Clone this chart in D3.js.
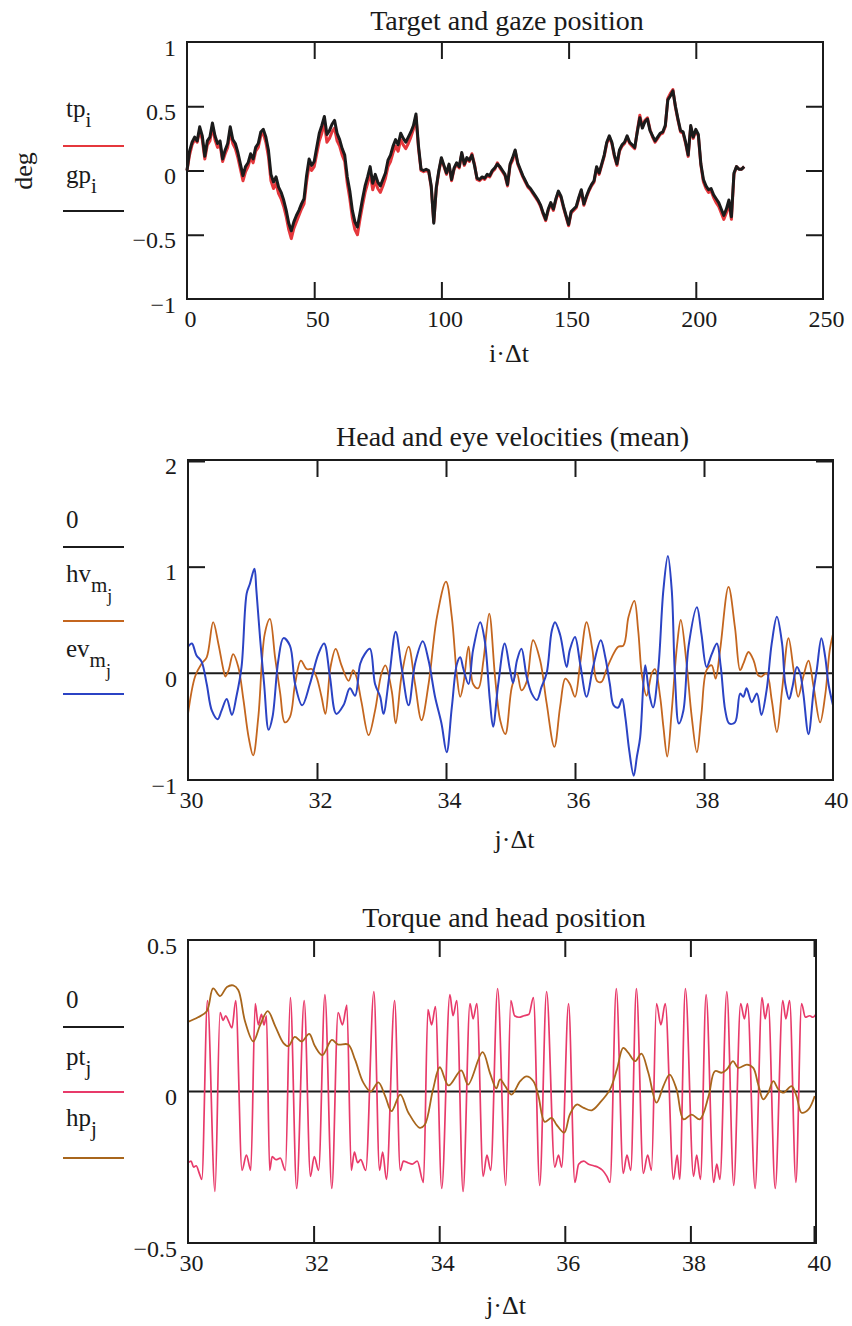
<!DOCTYPE html>
<html><head><meta charset="utf-8">
<script src="https://cdn.jsdelivr.net/npm/d3@7"></script>
<style>
body{margin:0;background:#fff}
svg text{font-family:"Liberation Serif","Times New Roman",serif;fill:#1a1a1a}
</style></head><body>
<svg id="chart" width="852" height="1326"></svg>
<script>
// ---------- Panel 1: target and gaze position (deg), sampled once per unit of i·Δt ----------
const tpValues = [
  0.00, 0.12, 0.20, 0.24, 0.22, 0.31, 0.24, 0.09, 0.20, 0.23,
  0.34, 0.24, 0.18, 0.20, 0.07, 0.13, 0.18, 0.31, 0.21, 0.17,
  0.10, 0.01, -0.08, -0.01, 0.03, 0.10, 0.06, 0.15, 0.18, 0.27,
  0.29, 0.22, 0.11, -0.08, -0.14, -0.10, -0.18, -0.22, -0.28, -0.36,
  -0.46, -0.53, -0.45, -0.40, -0.35, -0.30, -0.26, -0.09, 0.04, 0.00,
  0.03, 0.13, 0.23, 0.29, 0.37, 0.22, 0.25, 0.30, 0.33, 0.23,
  0.19, 0.12, 0.07, -0.10, -0.22, -0.37, -0.46, -0.50, -0.38, -0.27,
  -0.17, -0.10, -0.02, -0.15, -0.08, -0.14, -0.17, -0.12, -0.06, 0.03,
  0.07, 0.14, 0.19, 0.15, 0.24, 0.20, 0.17, 0.21, 0.26, 0.32,
  0.42, 0.17, 0.00, -0.01, 0.00, -0.01, -0.13, -0.40, -0.14, -0.01,
  0.09, 0.03, -0.03, 0.04, -0.08, 0.01, 0.05, 0.02, 0.13, 0.04,
  0.09, 0.07, 0.13, 0.05, -0.07, -0.08, -0.06, -0.07, -0.04, -0.05,
  -0.01, 0.01, 0.06, 0.02, -0.01, -0.04, -0.12, 0.04, 0.08, 0.15,
  0.05, 0.00, -0.05, -0.09, -0.13, -0.15, -0.18, -0.21, -0.24, -0.28,
  -0.34, -0.39, -0.31, -0.26, -0.31, -0.23, -0.17, -0.21, -0.29, -0.36,
  -0.43, -0.33, -0.31, -0.29, -0.22, -0.16, -0.27, -0.21, -0.16, -0.12,
  -0.09, 0.02, -0.03, 0.04, 0.11, 0.21, 0.26, 0.21, 0.11, 0.04,
  0.15, 0.19, 0.21, 0.26, 0.21, 0.19, 0.17, 0.31, 0.43, 0.34,
  0.39, 0.41, 0.32, 0.26, 0.22, 0.25, 0.28, 0.29, 0.34, 0.56,
  0.60, 0.63, 0.49, 0.39, 0.30, 0.29, 0.21, 0.11, 0.34, 0.25,
  0.31, 0.27, 0.04, -0.09, -0.14, -0.17, -0.16, -0.21, -0.25, -0.28,
  -0.33, -0.38, -0.33, -0.26, -0.38, -0.03, 0.03, 0.01, 0.01, 0.03
];
const gpValues = [
  0.00, 0.15, 0.22, 0.26, 0.23, 0.34, 0.27, 0.11, 0.23, 0.26,
  0.37, 0.27, 0.21, 0.23, 0.09, 0.16, 0.21, 0.34, 0.24, 0.21,
  0.14, 0.05, -0.04, 0.03, 0.06, 0.13, 0.09, 0.18, 0.21, 0.30,
  0.32, 0.26, 0.16, -0.03, -0.09, -0.05, -0.13, -0.17, -0.23, -0.31,
  -0.41, -0.47, -0.40, -0.35, -0.31, -0.26, -0.22, -0.04, 0.09, 0.04,
  0.07, 0.18, 0.29, 0.35, 0.42, 0.28, 0.31, 0.36, 0.39, 0.29,
  0.24, 0.17, 0.12, -0.05, -0.16, -0.31, -0.40, -0.44, -0.33, -0.22,
  -0.12, -0.05, 0.03, -0.10, -0.03, -0.09, -0.12, -0.07, -0.02, 0.08,
  0.12, 0.19, 0.24, 0.20, 0.29, 0.25, 0.22, 0.26, 0.30, 0.35,
  0.44, 0.19, 0.01, 0.00, 0.01, 0.00, -0.12, -0.41, -0.13, 0.00,
  0.10, 0.04, -0.02, 0.05, -0.07, 0.02, 0.06, 0.03, 0.14, 0.05,
  0.10, 0.08, 0.12, 0.04, -0.06, -0.07, -0.05, -0.06, -0.03, -0.04,
  0.00, 0.02, 0.05, 0.03, 0.00, -0.03, -0.11, 0.05, 0.10, 0.16,
  0.06, 0.01, -0.04, -0.08, -0.12, -0.14, -0.17, -0.20, -0.23, -0.27,
  -0.33, -0.38, -0.30, -0.25, -0.30, -0.22, -0.16, -0.20, -0.28, -0.35,
  -0.42, -0.32, -0.30, -0.28, -0.21, -0.15, -0.26, -0.20, -0.15, -0.11,
  -0.08, 0.03, -0.02, 0.05, 0.12, 0.22, 0.27, 0.22, 0.12, 0.05,
  0.16, 0.20, 0.22, 0.27, 0.22, 0.20, 0.18, 0.30, 0.41, 0.33,
  0.38, 0.40, 0.31, 0.27, 0.23, 0.26, 0.29, 0.30, 0.35, 0.55,
  0.58, 0.62, 0.50, 0.40, 0.31, 0.30, 0.22, 0.12, 0.35, 0.26,
  0.32, 0.28, 0.05, -0.07, -0.12, -0.15, -0.14, -0.19, -0.22, -0.25,
  -0.30, -0.35, -0.30, -0.23, -0.36, -0.02, 0.03, 0.01, 0.01, 0.03
];
const p1Times = d3.range(tpValues.length);          // i·Δt
const p1XLabels = [0, 50, 100, 150, 200, 250];
const p1XMarks = [50, 100, 150, 200];
const p1YLabels = [-1, -0.5, 0, 0.5, 1];
const p1YMarks = [-0.5, 0, 0.5];

// ---------- Panel 2: head and eye velocities (mean), [j·Δt, value] ----------
const hvSeries = [
  [30.00,-0.38],[30.11,-0.03],[30.21,0.09],[30.29,0.15],[30.39,0.48],[30.47,0.28],[30.55,0.03],[30.58,-0.03],
  [30.63,0.03],[30.70,0.18],[30.78,0.06],[30.86,-0.25],[30.94,-0.60],[31.01,-0.77],[31.09,-0.41],[31.19,0.37],
  [31.27,0.51],[31.35,0.15],[31.43,-0.19],[31.50,-0.46],[31.58,-0.41],[31.66,-0.10],[31.75,0.12],[31.84,0.04],
  [31.92,0.04],[31.99,-0.03],[32.07,-0.22],[32.13,-0.38],[32.21,0.06],[32.29,0.23],[32.38,0.075],[32.49,-0.07],
  [32.56,0.03],[32.61,-0.03],[32.69,-0.27],[32.80,-0.58],[32.90,-0.35],[33.00,0.00],[33.06,0.075],[33.16,-0.17],
  [33.22,-0.47],[33.31,-0.03],[33.42,0.25],[33.52,-0.10],[33.62,-0.44],[33.73,-0.10],[33.86,0.53],[34.00,0.86],
  [34.09,0.53],[34.17,-0.03],[34.22,-0.22],[34.27,-0.10],[34.35,0.25],[34.42,-0.10],[34.50,-0.14],[34.58,0.12],
  [34.67,0.56],[34.76,-0.03],[34.84,-0.44],[34.92,-0.57],[35.02,-0.13],[35.10,0.00],[35.17,-0.16],[35.25,-0.08],
  [35.35,0.31],[35.46,0.12],[35.56,-0.28],[35.68,-0.69],[35.77,-0.31],[35.85,-0.05],[35.92,-0.10],[36.00,-0.22],
  [36.08,0.09],[36.18,0.48],[36.27,0.22],[36.34,-0.07],[36.41,-0.08],[36.49,0.04],[36.57,0.15],[36.67,0.25],
  [36.75,0.26],[36.83,0.53],[36.92,0.68],[36.98,0.40],[37.04,-0.03],[37.11,-0.21],[37.19,0.00],[37.24,0.04],
  [37.32,-0.22],[37.37,-0.50],[37.43,-0.78],[37.50,-0.35],[37.58,0.25],[37.64,0.50],[37.73,0.09],[37.81,-0.41],
  [37.89,-0.74],[37.96,-0.38],[38.04,0.03],[38.12,0.075],[38.18,-0.05],[38.25,0.22],[38.38,0.81],[38.48,0.43],
  [38.56,0.03],[38.61,0.09],[38.69,0.20],[38.77,0.12],[38.84,-0.02],[38.89,-0.03],[38.97,0.00],[39.05,-0.25],
  [39.13,-0.55],[39.21,-0.16],[39.31,0.33],[39.39,0.03],[39.46,-0.22],[39.54,-0.03],[39.62,0.12],[39.70,-0.13],
  [39.80,-0.46],[39.88,-0.20],[39.95,0.22],[40.00,0.37]
];
const evSeries = [
  [30.00,0.25],[30.06,0.28],[30.13,0.17],[30.21,0.11],[30.29,-0.10],[30.37,-0.35],[30.46,-0.43],[30.52,-0.35],
  [30.60,-0.24],[30.68,-0.39],[30.75,-0.22],[30.83,0.06],[30.91,0.75],[30.96,0.84],[31.03,0.98],[31.06,0.78],
  [31.12,0.31],[31.18,-0.10],[31.25,-0.53],[31.31,-0.41],[31.40,0.12],[31.48,0.33],[31.58,0.26],[31.66,-0.10],
  [31.77,-0.30],[31.89,-0.10],[32.02,0.18],[32.11,0.28],[32.20,-0.03],[32.30,-0.38],[32.41,-0.30],[32.51,-0.14],
  [32.59,-0.21],[32.67,0.09],[32.74,0.18],[32.82,0.23],[32.90,-0.10],[32.98,-0.22],[33.03,-0.38],[33.12,-0.03],
  [33.22,0.39],[33.31,0.06],[33.42,-0.30],[33.52,0.09],[33.64,0.30],[33.73,0.12],[33.83,-0.22],[33.93,-0.47],
  [34.01,-0.74],[34.09,-0.32],[34.17,0.09],[34.22,0.15],[34.27,0.04],[34.35,-0.10],[34.42,0.22],[34.53,0.48],
  [34.60,0.31],[34.68,-0.25],[34.73,-0.50],[34.81,-0.10],[34.91,0.28],[34.99,0.04],[35.04,-0.09],[35.10,0.12],
  [35.17,0.23],[35.25,-0.03],[35.33,-0.19],[35.41,-0.25],[35.48,-0.13],[35.56,0.00],[35.64,0.40],[35.69,0.48],
  [35.77,0.36],[35.87,0.06],[35.92,0.22],[36.00,0.34],[36.08,0.09],[36.18,-0.22],[36.28,0.06],[36.40,0.31],
  [36.47,0.15],[36.54,-0.10],[36.60,-0.30],[36.67,-0.32],[36.73,-0.24],[36.78,-0.41],[36.84,-0.72],[36.91,-0.96],
  [36.96,-0.78],[37.01,-0.60],[37.06,-0.10],[37.09,0.075],[37.13,-0.10],[37.16,-0.22],[37.21,-0.32],[37.29,0.03],
  [37.37,0.78],[37.44,1.10],[37.50,0.78],[37.55,-0.03],[37.61,-0.47],[37.68,-0.35],[37.76,0.25],[37.89,0.62],
  [37.96,0.37],[38.04,0.06],[38.12,0.18],[38.20,0.28],[38.26,0.06],[38.33,-0.35],[38.39,-0.47],[38.48,-0.46],
  [38.56,-0.19],[38.61,-0.22],[38.66,-0.14],[38.74,-0.27],[38.82,-0.19],[38.89,-0.39],[38.97,-0.16],[39.05,0.28],
  [39.13,0.53],[39.21,0.28],[39.26,-0.10],[39.32,-0.24],[39.37,-0.13],[39.44,0.06],[39.49,0.00],[39.54,-0.19],
  [39.62,-0.57],[39.70,-0.16],[39.75,0.04],[39.82,0.33],[39.88,0.15],[39.93,-0.10],[40.00,-0.30]
];
const jXLabels = [30, 32, 34, 36, 38, 40];
const jXMarks = [32, 34, 36, 38];
const p2YLabels = [-1, 0, 1, 2];
const p2YMarks = [1];

// ---------- Panel 3: torque and head position, [j·Δt, value] ----------
const ptSeries = [
  [30.00,-0.235],[30.05,-0.23],[30.09,-0.25],[30.13,-0.245],[30.18,-0.27],[30.22,-0.29],[30.31,0.30],[30.43,-0.33],
  [30.51,0.26],[30.56,0.235],[30.60,0.25],[30.64,0.235],[30.70,0.21],[30.76,0.30],[30.86,-0.26],[30.93,-0.21],
  [31.00,-0.26],[31.07,0.29],[31.12,0.22],[31.17,0.255],[31.21,0.22],[31.25,0.25],[31.30,-0.26],[31.34,-0.215],
  [31.40,-0.225],[31.47,-0.22],[31.55,-0.26],[31.63,0.31],[31.73,-0.32],[31.85,0.30],[31.95,-0.28],[32.01,-0.215],
  [32.08,-0.26],[32.18,0.32],[32.29,-0.32],[32.39,0.26],[32.46,0.22],[32.53,0.285],[32.60,-0.26],[32.65,-0.20],
  [32.70,-0.235],[32.75,-0.225],[32.83,-0.26],[32.96,0.33],[33.05,-0.26],[33.10,-0.20],[33.16,-0.29],[33.29,0.30],
  [33.38,-0.26],[33.43,-0.23],[33.50,-0.235],[33.57,-0.24],[33.65,-0.23],[33.75,-0.30],[33.82,0.27],[33.88,0.22],
  [33.94,0.28],[34.04,-0.32],[34.17,0.32],[34.22,0.25],[34.28,0.30],[34.38,-0.33],[34.49,0.29],[34.54,0.24],
  [34.60,0.29],[34.70,-0.28],[34.76,-0.21],[34.82,-0.26],[34.93,0.34],[35.06,-0.31],[35.14,0.30],[35.20,0.25],
  [35.27,0.245],[35.35,0.25],[35.43,0.255],[35.50,0.31],[35.60,-0.31],[35.71,0.33],[35.84,-0.25],[35.90,-0.21],
  [35.95,-0.25],[36.06,0.29],[36.16,-0.30],[36.22,-0.24],[36.30,-0.23],[36.38,-0.24],[36.46,-0.245],[36.53,-0.25],
  [36.60,-0.26],[36.67,-0.28],[36.72,-0.30],[36.82,0.34],[36.93,-0.27],[36.99,-0.21],[37.05,-0.26],[37.14,0.34],
  [37.25,-0.27],[37.32,-0.21],[37.38,-0.26],[37.46,0.29],[37.53,0.22],[37.60,0.29],[37.73,-0.29],[37.79,-0.21],
  [37.83,-0.29],[37.92,0.34],[38.05,-0.28],[38.10,-0.21],[38.16,-0.29],[38.25,0.32],[38.37,-0.30],[38.42,-0.24],
  [38.47,-0.29],[38.58,0.33],[38.69,-0.31],[38.80,0.29],[38.86,0.24],[38.91,0.29],[39.03,-0.32],[39.14,0.31],
  [39.19,0.24],[39.24,0.29],[39.35,-0.32],[39.47,0.30],[39.52,0.24],[39.58,0.30],[39.68,-0.30],[39.77,0.29],
  [39.83,0.245],[39.90,0.25],[39.95,0.245],[40.00,0.255]
];
const hpSeries = [
  [30.00,0.23],[30.16,0.245],[30.30,0.265],[30.40,0.34],[30.51,0.315],[30.62,0.345],[30.72,0.35],[30.80,0.335],
  [30.91,0.23],[31.04,0.165],[31.15,0.22],[31.27,0.265],[31.39,0.215],[31.52,0.16],[31.60,0.15],[31.70,0.18],
  [31.81,0.165],[31.93,0.19],[32.02,0.15],[32.14,0.12],[32.29,0.17],[32.39,0.155],[32.55,0.155],[32.66,0.105],
  [32.79,0.03],[32.91,0.00],[33.03,0.03],[33.14,-0.015],[33.24,-0.065],[33.38,-0.01],[33.51,-0.07],[33.69,-0.12],
  [33.77,-0.11],[33.90,0.005],[34.01,0.08],[34.15,0.02],[34.35,0.07],[34.46,0.023],[34.69,0.13],[34.81,0.06],
  [34.91,0.01],[34.97,0.04],[35.05,0.018],[35.15,-0.01],[35.29,0.034],[35.39,0.05],[35.50,0.034],[35.58,-0.015],
  [35.68,-0.10],[35.79,-0.087],[35.87,-0.11],[35.99,-0.136],[36.08,-0.076],[36.19,-0.043],[36.30,-0.054],[36.43,-0.062],
  [36.56,-0.037],[36.72,0.007],[36.83,0.073],[36.93,0.144],[37.01,0.128],[37.12,0.10],[37.22,0.125],[37.33,0.062],
  [37.46,-0.037],[37.57,0.018],[37.67,0.056],[37.78,0.007],[37.89,-0.092],[38.02,-0.076],[38.15,-0.092],[38.29,-0.015],
  [38.39,0.067],[38.50,0.062],[38.58,0.073],[38.68,0.10],[38.76,0.078],[38.90,0.089],[39.00,0.078],[39.08,0.023],
  [39.16,-0.026],[39.24,-0.004],[39.32,0.034],[39.40,0.007],[39.48,-0.004],[39.61,0.018],[39.69,-0.015],[39.77,-0.07],
  [39.88,-0.059],[39.98,-0.015]
];
const p3YLabels = [-0.5, 0, 0.5];

// ---------- drawing ----------
const svg = d3.select('#chart');
const INK = '#1b1b1b';
const SERIF = '"Liberation Serif","Times New Roman",serif';
const fmt = d => d3.format('~g')(d);

function drawPanel(o) {
  const x = d3.scaleLinear().domain(o.xDomain).range([o.left, o.right]);
  const y = d3.scaleLinear().domain(o.yDomain).range([o.bottom, o.top]);
  const g = svg.append('g');

  // inward tick marks on all four sides
  const markAxes = [
    [d3.axisBottom(x).tickValues(o.xMarks), `translate(0,${o.bottom})`],
    [d3.axisTop(x).tickValues(o.xMarks), `translate(0,${o.top})`],
    [d3.axisLeft(y).tickValues(o.yMarks), `translate(${o.left},0)`],
    [d3.axisRight(y).tickValues(o.yMarks), `translate(${o.right},0)`]
  ];
  markAxes.forEach(([ax, tr]) => {
    const a = g.append('g').attr('transform', tr)
      .call(ax.tickSize(-17).tickFormat(''));
    a.select('.domain').remove();
    a.selectAll('line').attr('stroke', INK).attr('stroke-width', 2);
  });

  // tick labels
  const xl = g.append('g').attr('transform', `translate(3,${o.bottom})`)
    .call(d3.axisBottom(x).tickValues(o.xLabels).tickSize(0).tickPadding(11).tickFormat(fmt));
  xl.attr('font-family', SERIF);
  xl.select('.domain').remove();
  xl.selectAll('text').attr('font-size', 24).attr('fill', INK);

  const yl = g.append('g').attr('transform', `translate(${o.left},0)`)
    .call(d3.axisLeft(y).tickValues(o.yLabels).tickSize(0).tickPadding(11).tickFormat(fmt));
  yl.attr('font-family', SERIF);
  yl.select('.domain').remove();
  yl.selectAll('text').attr('font-size', 24).attr('dy', '0.55em').attr('fill', INK);

  // title and x-axis label
  g.append('text').attr('x', (o.left + o.right) / 2 + 2).attr('y', o.titleY)
    .attr('text-anchor', 'middle').attr('font-size', 28).text(o.title);
  g.append('text').attr('x', (o.left + o.right) / 2 + 4).attr('y', o.xLabelY)
    .attr('text-anchor', 'middle').attr('font-size', 26).text(o.xLabel);

  const plot = g.append('g');
  const frame = () => g.append('rect')
    .attr('x', o.left).attr('y', o.top)
    .attr('width', o.right - o.left).attr('height', o.bottom - o.top)
    .attr('fill', 'none').attr('stroke', INK).attr('stroke-width', 2);
  return { x, y, plot, frame, g };
}

function legendEntry(yLine, color, base, baseY, sub, subsub) {
  const t = svg.append('text').attr('x', 66).attr('y', baseY).attr('font-size', 25);
  t.append('tspan').text(base);
  if (sub) t.append('tspan').attr('font-size', 21).attr('dy', 10).text(sub);
  if (subsub) t.append('tspan').attr('font-size', 18).attr('dy', 10).text(subsub);
  svg.append('line').attr('x1', 63).attr('x2', 124).attr('y1', yLine).attr('y2', yLine)
    .attr('stroke', color).attr('stroke-width', 2);
}

// Panel 1
{
  const p = drawPanel({
    left: 187, right: 823, top: 42, bottom: 299,
    xDomain: [0, 250], yDomain: [-1, 1],
    xMarks: p1XMarks, yMarks: p1YMarks, xLabels: p1XLabels, yLabels: p1YLabels,
    title: 'Target and gaze position', titleY: 30,
    xLabel: 'i·Δt', xLabelY: 362
  });
  const line = d3.line().x((d, i) => p.x(p1Times[i])).y(d => p.y(d));
  p.plot.append('path').datum(tpValues).attr('d', line)
    .attr('fill', 'none').attr('stroke', '#e5373c').attr('stroke-width', 3).attr('stroke-linejoin', 'round');
  p.plot.append('path').datum(gpValues).attr('d', line)
    .attr('fill', 'none').attr('stroke', INK).attr('stroke-width', 3).attr('stroke-linejoin', 'round');
  p.frame();

  svg.append('text').attr('transform', 'translate(32,171) rotate(-90)')
    .attr('text-anchor', 'middle').attr('font-size', 26).text('deg');
  legendEntry(146, '#e5373c', 'tp', 117, 'i');
  legendEntry(211, INK, 'gp', 183, 'i');
}

// Panel 2
{
  const p = drawPanel({
    left: 188, right: 833, top: 460, bottom: 780,
    xDomain: [30, 40], yDomain: [-1, 2],
    xMarks: jXMarks, yMarks: p2YMarks, xLabels: jXLabels, yLabels: p2YLabels,
    title: 'Head and eye velocities (mean)', titleY: 446,
    xLabel: 'j·Δt', xLabelY: 848
  });
  const line = d3.line().x(d => p.x(d[0])).y(d => p.y(d[1])).curve(d3.curveCatmullRom.alpha(0.5));
  p.plot.append('line').attr('x1', p.x(30)).attr('x2', p.x(40)).attr('y1', p.y(0)).attr('y2', p.y(0))
    .attr('stroke', INK).attr('stroke-width', 2);
  p.plot.append('path').datum(hvSeries).attr('d', line)
    .attr('fill', 'none').attr('stroke', '#c4661f').attr('stroke-width', 1.8);
  p.plot.append('path').datum(evSeries).attr('d', line)
    .attr('fill', 'none').attr('stroke', '#2b43c4').attr('stroke-width', 2);
  p.frame();
  // heavier end ticks at the upper corners
  [[188, 205], [816, 833]].forEach(([a, b]) => svg.append('line')
    .attr('x1', a).attr('x2', b).attr('y1', p.y(2) + 1).attr('y2', p.y(2) + 1)
    .attr('stroke', INK).attr('stroke-width', 3));

  legendEntry(547, INK, '0', 528);
  legendEntry(621, '#c4661f', 'hv', 582, 'm', 'j');
  legendEntry(694, '#2b43c4', 'ev', 657, 'm', 'j');
}

// Panel 3
{
  const p = drawPanel({
    left: 188, right: 816, top: 940, bottom: 1243,
    xDomain: [30, 40], yDomain: [-0.5, 0.5],
    xMarks: jXMarks, yMarks: [], xLabels: jXLabels, yLabels: p3YLabels,
    title: 'Torque and head position', titleY: 927,
    xLabel: 'j·Δt', xLabelY: 1314
  });
  p.plot.append('line').attr('x1', p.x(30)).attr('x2', p.x(40)).attr('y1', p.y(0)).attr('y2', p.y(0))
    .attr('stroke', INK).attr('stroke-width', 2);
  p.plot.append('path').datum(ptSeries)
    .attr('d', d3.line().x(d => p.x(d[0])).y(d => p.y(d[1])).curve(d3.curveMonotoneX))
    .attr('fill', 'none').attr('stroke', '#e83a6a').attr('stroke-width', 1.7);
  p.plot.append('path').datum(hpSeries)
    .attr('d', d3.line().x(d => p.x(d[0])).y(d => p.y(d[1])).curve(d3.curveCatmullRom.alpha(0.5)))
    .attr('fill', 'none').attr('stroke', '#a8661c').attr('stroke-width', 1.8);
  p.frame();
  // heavier end ticks at the right corners
  [[940, 957], [1226, 1243]].forEach(([a, b]) => svg.append('line')
    .attr('x1', p.x(40) - 1).attr('x2', p.x(40) - 1).attr('y1', a).attr('y2', b)
    .attr('stroke', INK).attr('stroke-width', 3));

  legendEntry(1027, INK, '0', 1008);
  legendEntry(1092, '#e83a6a', 'pt', 1065, 'j');
  legendEntry(1158, '#a8661c', 'hp', 1126, 'j');
}
</script></body></html>
